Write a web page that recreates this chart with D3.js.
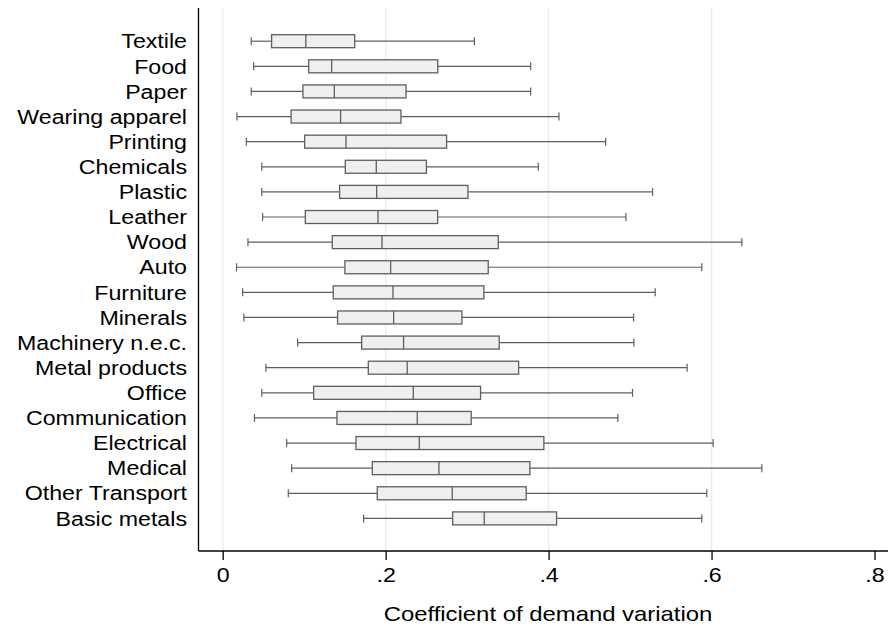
<!DOCTYPE html>
<html><head><meta charset="utf-8">
<script src="https://cdn.jsdelivr.net/npm/d3@7/dist/d3.min.js"></script>
<style>body{margin:0;background:#fff}svg{display:block}text{font-family:"Liberation Sans",Arial,sans-serif}</style>
</head><body><svg id="c" width="889" height="627"></svg>
<script>
const categories = ["Textile","Food","Paper","Wearing apparel","Printing","Chemicals","Plastic","Leather","Wood","Auto","Furniture","Minerals","Machinery n.e.c.","Metal products","Office","Communication","Electrical","Medical","Other Transport","Basic metals"];
const whiskerLow = [0.035,0.038,0.035,0.0175,0.029,0.048,0.048,0.049,0.031,0.017,0.0245,0.026,0.092,0.053,0.048,0.039,0.0785,0.0846,0.0805,0.173];
const q1 = [0.060,0.1055,0.0985,0.084,0.1006,0.1505,0.1435,0.1014,0.1345,0.150,0.1357,0.141,0.1705,0.1787,0.1116,0.1402,0.1636,0.1836,0.1897,0.2822];
const median = [0.102,0.1337,0.137,0.1447,0.1513,0.1885,0.189,0.1906,0.1955,0.2061,0.209,0.2098,0.222,0.2265,0.2339,0.2388,0.2413,0.2654,0.2817,0.321];
const q3 = [0.162,0.264,0.225,0.2188,0.2748,0.250,0.301,0.2638,0.3382,0.3259,0.3206,0.2936,0.3394,0.3632,0.3165,0.305,0.3942,0.377,0.3725,0.4098];
const whiskerHigh = [0.309,0.378,0.378,0.4127,0.470,0.3873,0.5276,0.4949,0.6372,0.588,0.5308,0.5043,0.5047,0.570,0.503,0.485,0.602,0.6617,0.5942,0.588];
const xTicks = [0,0.2,0.4,0.6,0.8];
const gridTicks = [0,0.2,0.4,0.6];
const xTitle = "Coefficient of demand variation";

(function(){
const svg = d3.select("#c");
const pLeft = 198.5, pRight = 888, pTop = 8, pBottom = 551;
const fs = 20, sx = 1.16;
const x = d3.scaleLinear().domain([0,0.8]).range([222.7,874.5]);
const y = d3.scalePoint().domain(categories).range([41.2,518.4]);
const fmt = d => d===0 ? "0" : d3.format(".1f")(d).replace(/^0/,"");

svg.append("g").selectAll("line").data(gridTicks).join("line")
  .attr("x1",d=>x(d)).attr("x2",d=>x(d)).attr("y1",pTop).attr("y2",pBottom)
  .attr("stroke","#e6eff1").attr("stroke-width",1.5);

const xAxis = d3.axisBottom(x).tickValues(xTicks).tickFormat(fmt).tickSize(9).tickSizeOuter(0);
const gx = svg.append("g").attr("transform",`translate(0,${pBottom})`).call(xAxis);
gx.select(".domain").remove();
gx.selectAll(".tick line").attr("stroke","#000").attr("stroke-width",1.3);
gx.selectAll(".tick text").attr("font-size",fs).attr("fill","#000").attr("y",0).attr("dy",null)
  .attr("transform",`translate(0,31) scale(${sx},1)`);
svg.append("line").attr("x1",pLeft).attr("x2",pRight).attr("y1",pBottom).attr("y2",pBottom).attr("stroke","#000").attr("stroke-width",1.3);
svg.append("line").attr("x1",pLeft).attr("x2",pLeft).attr("y1",pTop).attr("y2",pBottom).attr("stroke","#000").attr("stroke-width",1.3);

svg.append("g").selectAll("text").data(categories).join("text")
  .attr("transform",d=>`translate(187,${y(d)}) scale(${sx},1)`).attr("dy","0.36em").attr("text-anchor","end")
  .attr("font-size",fs).attr("fill","#000").text(d=>d);

svg.append("text").attr("transform",`translate(548,621) scale(${sx*1.03},1)`).attr("text-anchor","middle")
  .attr("font-size",fs).attr("fill","#000").text(xTitle);

const rows = categories.map((c,i)=>({c, lo:whiskerLow[i], q1:q1[i], med:median[i], q3:q3[i], hi:whiskerHigh[i]}));
const g = svg.append("g").selectAll("g").data(rows).join("g");
const col = "#5e5e5e", bh = 6.5, ch = 4;
g.append("line").attr("x1",d=>x(d.lo)).attr("x2",d=>x(d.q1)).attr("y1",d=>y(d.c)).attr("y2",d=>y(d.c)).attr("stroke",col).attr("stroke-width",1.2);
g.append("line").attr("x1",d=>x(d.q3)).attr("x2",d=>x(d.hi)).attr("y1",d=>y(d.c)).attr("y2",d=>y(d.c)).attr("stroke",col).attr("stroke-width",1.2);
g.append("line").attr("x1",d=>x(d.lo)).attr("x2",d=>x(d.lo)).attr("y1",d=>y(d.c)-ch).attr("y2",d=>y(d.c)+ch).attr("stroke",col).attr("stroke-width",1.2);
g.append("line").attr("x1",d=>x(d.hi)).attr("x2",d=>x(d.hi)).attr("y1",d=>y(d.c)-ch).attr("y2",d=>y(d.c)+ch).attr("stroke",col).attr("stroke-width",1.2);
g.append("rect").attr("x",d=>x(d.q1)).attr("width",d=>x(d.q3)-x(d.q1)).attr("y",d=>y(d.c)-bh).attr("height",bh*2)
  .attr("fill","#efefef").attr("stroke",col).attr("stroke-width",1.3);
g.append("line").attr("x1",d=>x(d.med)).attr("x2",d=>x(d.med)).attr("y1",d=>y(d.c)-bh).attr("y2",d=>y(d.c)+bh).attr("stroke",col).attr("stroke-width",1.3);
})();
</script></body></html>
